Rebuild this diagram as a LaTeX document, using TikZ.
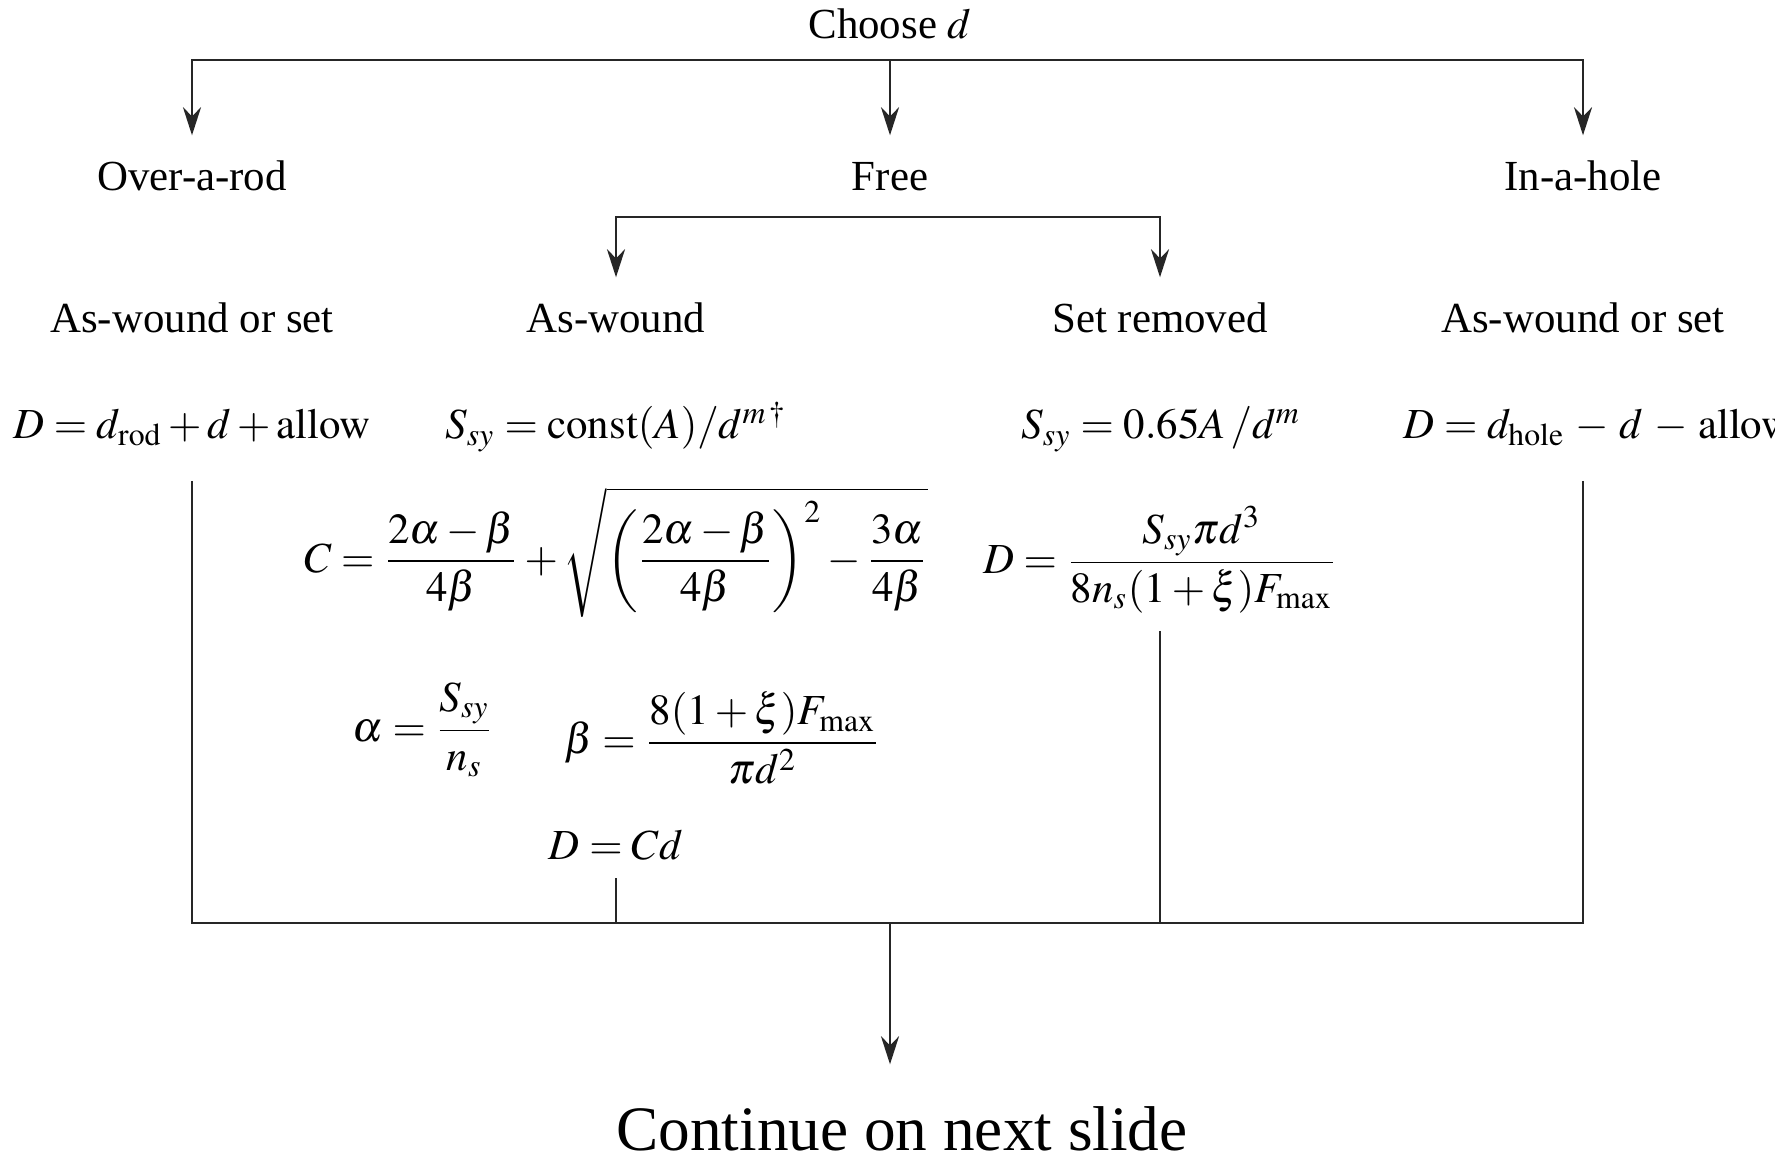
\documentclass[tikz,border=0pt]{standalone}
\usepackage{mathptmx}
\usepackage[no-math]{fontspec}
\setmainfont{Liberation Serif}
\usetikzlibrary{arrows.meta}

\begin{document}
\begin{tikzpicture}[
    branch/.style={font=\fontsize{12.2}{14}\selectfont, anchor=base,
                   text height=0.29cm, text depth=0.08cm,
                   inner xsep=0pt, inner ysep=0.26cm},
    eqn/.style={font=\fontsize{12.2}{14}\selectfont, inner sep=0pt},
    wire/.style={line width=0.7pt, black!85},
    arrow/.style={wire, -{Stealth[length=2.8mm, width=1.8mm, inset=0.9mm]}}
]
\useasboundingbox (0,0) rectangle (17.75,-11.61);

\node[branch] (choose) at (8.9,-0.39) {Choose $d$};
\node[branch] (rod)  at (1.92,-1.91) {Over-a-rod};
\node[branch] (free) at (8.9,-1.91)  {Free};
\node[branch] (hole) at (15.83,-1.91) {In-a-hole};

\node[branch] (rodset)  at (1.92,-3.33)  {As-wound or set};
\node[branch] (aswound) at (6.16,-3.33)  {As-wound};
\node[branch] (setrem)  at (11.6,-3.33)  {Set removed};
\node[branch] (holeset) at (15.83,-3.33) {As-wound or set};

\node[eqn, anchor=base] (rodeq) at (1.92,-4.39) {$D = d_{\mathrm{rod}} + d + \mathrm{allow}$};
\node[eqn, anchor=base] (aweq)  at (6.16,-4.39) {$S_{sy} = \mathrm{const}(A)/d^{m\,\dagger}$};
\node[eqn, anchor=base] (sreq)  at (11.61,-4.39) {$S_{sy} = 0.65A\,/d^{m}$};
\node[eqn, anchor=base west] (holeeq) at (14.03,-4.39) {$D = d_{\mathrm{hole}} \,-\, d \,-\, \mathrm{allow}$};

\node[eqn] (ceq) at (6.16,-5.52) {$\displaystyle C = \frac{2\alpha-\beta}{4\beta}
    + \sqrt{\left(\frac{2\alpha-\beta}{4\beta}\right)^{2} - \frac{3\alpha}{4\beta}}$};
\node[eqn] (deq) at (11.6,-5.6) {$\displaystyle D = \frac{S_{sy}\pi d^{3}}{8n_{s}(1+\xi)F_{\max}}$};
\node[eqn] (alphaeq) at (4.23,-7.3) {$\displaystyle \alpha = \frac{S_{sy}}{n_{s}}$};
\node[eqn] (betaeq)  at (7.22,-7.38) {$\displaystyle \beta = \frac{8(1+\xi)F_{\max}}{\pi d^{2}}$};
\node[eqn, anchor=base] (cdeq) at (6.16,-8.59) {$D = Cd$};

\node[branch, font=\fontsize{18}{21}\selectfont, text height=0.44cm,
      inner ysep=0.41cm] (cont) at (9.02,-11.5) {Continue on next slide};

\coordinate (top)  at (8.9,-0.6);
\coordinate (fork) at (8.9,-2.17);
\coordinate (hj)   at (15.83,-4.81);
\coordinate (bot)  at (8.9,-9.23);

\draw[arrow] (top) -| (rod.north);
\draw[arrow] (top) -| (hole.north);
\draw[arrow] (top) -- (free.north);
\draw[arrow] (fork) -| (aswound.north);
\draw[arrow] (fork) -| (setrem.north);

\draw[wire, shorten <=0.34cm] (rodeq.south) |- (bot);
\draw[wire] (hj) |- (bot);
\draw[wire, shorten <=0.17cm] (deq.south) -- (deq.south |- bot);
\draw[wire, shorten <=0.18cm] (cdeq.south) -- (cdeq.south |- bot);
\draw[arrow] (bot) -- (bot |- cont.north);

\end{tikzpicture}
\end{document}
